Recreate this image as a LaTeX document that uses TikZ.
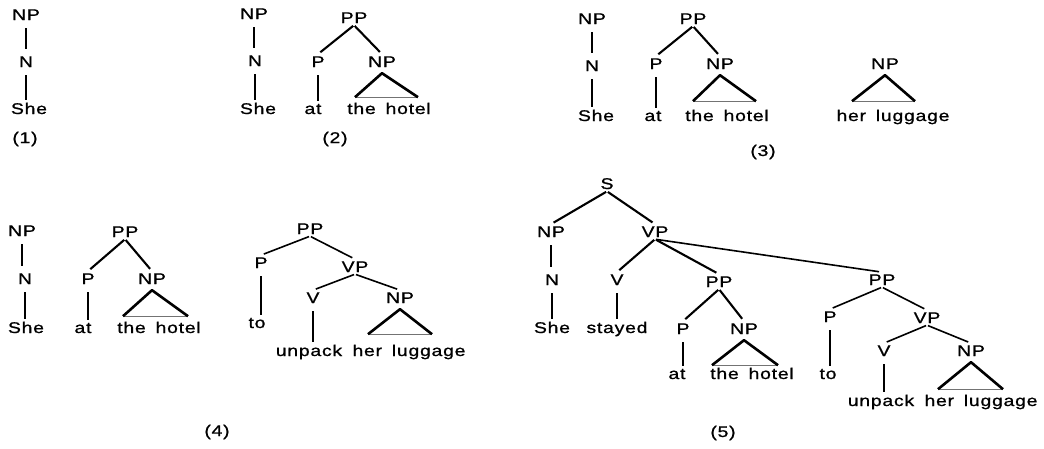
\documentclass[tikz,border=0pt]{standalone}
\usepackage{fontspec}
\setmainfont{Liberation Sans}[FakeStretch=1.25,LetterSpace=5,WordSpace=1.6,FakeBold=1]
\tikzset{
  lab/.style={anchor=base, inner sep=2pt, font=\fontsize{15.5}{18}\selectfont},
  edge/.style={line width=2.1pt, shorten <=1pt, shorten >=3pt},
  thinedge/.style={edge, line width=1.6pt},
  stem/.style={line width=2.1pt, shorten <=6pt, shorten >=5pt},
  stemw/.style={line width=2.1pt, shorten <=6pt, shorten >=1pt},
  roofside/.style={line width=2.6pt, line join=round},
  roofbase/.style={line width=1.1pt, black!55},
}
% triangle under a node: #1 node, #2 left reach, #3 right reach, #4 height
\newcommand\roofunder[4]{%
  \coordinate (#1-apex) at ([yshift=-4pt]#1.south);
  \draw[roofbase] ([shift={(-#2,#4)}]#1-apex) -- ([shift={(#3,#4)}]#1-apex);
  \draw[roofside] ([shift={(-#2,#4)}]#1-apex) -- (#1-apex) -- ([shift={(#3,#4)}]#1-apex);
}
\begin{document}
\begin{tikzpicture}[x=1pt,y=-1pt]
\fill[white] (0,0) rectangle (1044,448);
\useasboundingbox (0,0) rectangle (1044,448);

% ---- (1)
\node[lab] (a-np)  at (26,20)  {NP};
\node[lab] (a-n)   at (26,67)  {N};
\node[lab] (a-she) at (29,114) {She};
\node[lab] (a-cap) at (25,143) {(1)};
\draw[stem]  (a-np.south) -- (a-np.south |- a-n.north);
\draw[stemw] (a-n.south)  -- (a-n.south |- a-she.north);

% ---- (2)
\node[lab] (b-np)    at (254,19)  {NP};
\node[lab] (b-n)     at (255,66)  {N};
\node[lab] (b-she)   at (258,114) {She};
\node[lab] (b-pp)    at (354,23)  {PP};
\node[lab] (b-p)     at (318,67)  {P};
\node[lab] (b-np2)   at (382,67)  {NP};
\node[lab] (b-at)    at (313,114) {at};
\node[lab] (b-hotel) at (389,114) {the hotel};
\node[lab] (b-cap)   at (335,143) {(2)};
\draw[stem]  (b-np.south) -- (b-np.south |- b-n.north);
\draw[stemw] (b-n.south)  -- (b-n.south |- b-she.north);
\draw[edge]  (b-pp.south) -- (b-p.north);
\draw[edge]  (b-pp.south) -- (b-np2.north);
\draw[stemw] (b-p.south)  -- (b-p.south |- b-at.north);
\roofunder{b-np2}{27}{36}{24}

% ---- (3)
\node[lab] (c-np)    at (592,24)  {NP};
\node[lab] (c-n)     at (592,71)  {N};
\node[lab] (c-she)   at (596,121) {She};
\node[lab] (c-pp)    at (693,24)  {PP};
\node[lab] (c-p)     at (656,69)  {P};
\node[lab] (c-np2)   at (720,69)  {NP};
\node[lab] (c-at)    at (653,121) {at};
\node[lab] (c-hotel) at (727,121) {the hotel};
\node[lab] (c-np3)   at (885,69)  {NP};
\node[lab] (c-lug)   at (893,121) {her luggage};
\node[lab] (c-cap)   at (763,156) {(3)};
\draw[stem]  (c-np.south) -- (c-np.south |- c-n.north);
\draw[stemw] (c-n.south)  -- (c-n.south |- c-she.north);
\draw[edge]  (c-pp.south) -- (c-p.north);
\draw[edge]  (c-pp.south) -- (c-np2.north);
\draw[stemw] (c-p.south)  -- (c-p.south |- c-at.north);
\roofunder{c-np2}{27}{36}{26}
\roofunder{c-np3}{33}{30}{26}

% ---- (4)
\node[lab] (d-np)    at (22,236)  {NP};
\node[lab] (d-n)     at (25,284)  {N};
\node[lab] (d-she)   at (26,333)  {She};
\node[lab] (d-pp)    at (125,237) {PP};
\node[lab] (d-p)     at (88,284)  {P};
\node[lab] (d-np2)   at (152,284) {NP};
\node[lab] (d-at)    at (83,333)  {at};
\node[lab] (d-hotel) at (159,333) {the hotel};
\draw[stem]  (d-np.south) -- (d-np.south |- d-n.north);
\draw[stemw] (d-n.south)  -- (d-n.south |- d-she.north);
\draw[edge]  (d-pp.south) -- (d-p.north);
\draw[edge]  (d-pp.south) -- (d-np2.north);
\draw[stemw] (d-p.south)  -- (d-p.south |- d-at.north);
\roofunder{d-np2}{29}{36}{26}

\node[lab] (d-pp2)    at (310,234) {PP};
\node[lab] (d-p2)     at (261,268) {P};
\node[lab] (d-to)     at (257,328) {to};
\node[lab] (d-vp)     at (355,272) {VP};
\node[lab] (d-v)      at (313,303) {V};
\node[lab] (d-np3)    at (400,303) {NP};
\node[lab] (d-unpack) at (309,356) {unpack};
\node[lab] (d-lug)    at (409,356) {her luggage};
\node[lab] (d-cap)    at (217,436) {(4)};
\draw[thinedge] (d-pp2.south) -- (d-p2.north);
\draw[thinedge] (d-pp2.south) -- (d-vp.north);
\draw[stemw]    (d-p2.south)  -- (d-p2.south |- d-to.north);
\draw[thinedge] (d-vp.south)  -- (d-v.north);
\draw[thinedge] (d-vp.south)  -- (d-np3.north);
\draw[stemw]    (d-v.south)   -- (d-v.south |- d-unpack.north);
\roofunder{d-np3}{32}{32}{25}

% ---- (5)
\node[lab] (e-s)      at (607,189) {S};
\node[lab] (e-np)     at (551,237) {NP};
\node[lab] (e-vp)     at (655,237) {VP};
\node[lab] (e-n)      at (552,285) {N};
\node[lab] (e-v)      at (617,285) {V};
\node[lab] (e-pp)     at (719,287) {PP};
\node[lab] (e-she)    at (552,333) {She};
\node[lab] (e-stayed) at (617,333) {stayed};
\node[lab] (e-p)      at (683,334) {P};
\node[lab] (e-np2)    at (744,334) {NP};
\node[lab] (e-at)     at (677,379) {at};
\node[lab] (e-hotel)  at (752,379) {the hotel};
\node[lab] (e-pp2)    at (882,285) {PP};
\node[lab] (e-p2)     at (830,322) {P};
\node[lab] (e-vp2)    at (927,323) {VP};
\node[lab] (e-to)     at (828,379) {to};
\node[lab] (e-v2)     at (884,356) {V};
\node[lab] (e-np3)    at (971,356) {NP};
\node[lab] (e-unpack) at (881,406) {unpack};
\node[lab] (e-lug)    at (981,406) {her luggage};
\node[lab] (e-cap)    at (723,437) {(5)};
\draw[edge]  (e-s.south)   -- (e-np.north);
\draw[edge]  (e-s.south)   -- (e-vp.north);
\draw[stem]  (e-np.south)  -- (e-np.south |- e-n.north);
\draw[stemw] (e-n.south)   -- (e-n.south |- e-she.north);
\draw[edge]  (e-vp.south)  -- (e-v.north);
\draw[edge]  (e-vp.south)  -- (e-pp.north);
\draw[thinedge] (e-vp.south) -- (e-pp2.north);
\draw[stemw] (e-v.south)   -- (e-v.south |- e-stayed.north);
\draw[edge]  (e-pp.south)  -- (e-p.north);
\draw[edge]  (e-pp.south)  -- (e-np2.north);
\draw[stemw] (e-p.south)   -- (e-p.south |- e-at.north);
\roofunder{e-np2}{32}{34}{25}
\draw[thinedge] (e-pp2.south) -- (e-p2.north);
\draw[thinedge] (e-pp2.south) -- (e-vp2.north);
\draw[stemw]    (e-p2.south)  -- (e-p2.south |- e-to.north);
\draw[thinedge] (e-vp2.south) -- (e-v2.north);
\draw[thinedge] (e-vp2.south) -- (e-np3.north);
\draw[stemw]    (e-v2.south)  -- (e-v2.south |- e-unpack.north);
\roofunder{e-np3}{33}{32}{27}
\end{tikzpicture}
\end{document}
